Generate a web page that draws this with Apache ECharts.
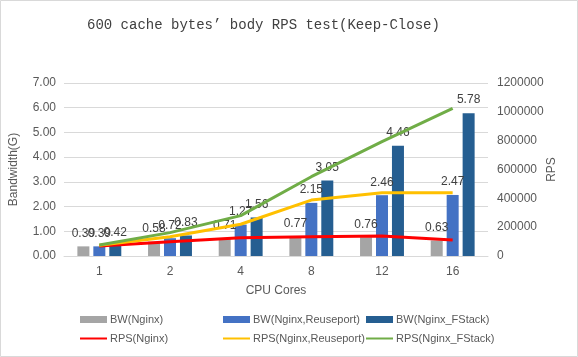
<!DOCTYPE html>
<html><head><meta charset="utf-8">
<script src="https://cdn.jsdelivr.net/npm/echarts@6/dist/echarts.min.js"></script>
<style>html,body{margin:0;padding:0;background:#fff}#c{width:578px;height:357px}</style>
</head><body><div id="c"></div>
<script>
const categories = ['1','2','4','8','12','16'];
const bwNginx = [0.39,0.58,0.71,0.77,0.76,0.63];
const bwReuse = [0.39,0.72,1.27,2.15,2.46,2.47];
const bwFstack = [0.42,0.83,1.56,3.05,4.46,5.78];
const rpsNginx = [70000,99000,127000,134000,139000,111000];
const rpsReuse = [75000,134000,220000,388000,439000,439000];
const rpsFstack = [76000,162000,280000,550000,793000,1024000];
const leftTicks = [0,1,2,3,4,5,6,7];
const rightTicks = [0,200000,400000,600000,800000,1000000,1200000];

const FONT = 'Liberation Sans';
const txt = '#595959';
const chart = echarts.init(document.getElementById('c'), null, {renderer:'canvas'});
const barLabel = {show:true, position:'top', distance:7, color:'#404040', fontSize:12, fontFamily:FONT, formatter:p=>p.value.toFixed(2)};
function legend(left, names){
  return {left:left, top:309, orient:'vertical', itemGap:8, itemWidth:27, itemHeight:7,
    textStyle:{color:txt, fontSize:11, fontFamily:FONT, padding:[0,0,0,-2]}, data:names};
}
const lineItem = n => ({name:n, itemStyle:{opacity:0}});
chart.setOption({
  animation:false,
  backgroundColor:'#fff',
  title:{text:'600 cache bytes\u2019 body RPS test(Keep-Close)', left:82, top:13,
    textStyle:{fontFamily:'Liberation Mono', fontWeight:'normal', fontSize:14, color:'#404040'}},
  graphic:[{type:'rect', shape:{x:0.5,y:0.5,width:577,height:356}, style:{fill:'none', stroke:'#d9d9d9', lineWidth:1}, silent:true}],
  grid:{left:64, right:90, top:83, bottom:101},
  legend:[
    legend(74, [{name:'BW(Nginx)', icon:'rect'}, lineItem('RPS(Nginx)')]),
    legend(217, [{name:'BW(Nginx,Reuseport)', icon:'rect'}, lineItem('RPS(Nginx,Reuseport)')]),
    legend(360, [{name:'BW(Nginx_FStack)', icon:'rect'}, lineItem('RPS(Nginx_FStack)')])
  ],
  xAxis:{type:'category', data:categories, name:'CPU Cores', nameLocation:'middle', nameGap:29,
    nameTextStyle:{color:txt, fontSize:12, fontFamily:FONT},
    axisLine:{lineStyle:{color:'#d9d9d9'}}, axisTick:{show:false},
    axisLabel:{color:txt, fontSize:12, fontFamily:FONT, margin:10}},
  yAxis:[
    {type:'value', min:leftTicks[0], max:leftTicks[leftTicks.length-1], interval:1,
      name:'Bandwidth(G)', nameLocation:'middle', nameGap:44,
      nameTextStyle:{color:txt, fontSize:12, fontFamily:FONT},
      axisLine:{show:false}, axisTick:{show:false},
      axisLabel:{color:txt, fontSize:12, fontFamily:FONT, margin:8, formatter:v=>v.toFixed(2)},
      splitLine:{lineStyle:{color:'#d9d9d9'}}},
    {type:'value', min:rightTicks[0], max:rightTicks[rightTicks.length-1], interval:200000,
      name:'RPS', nameLocation:'middle', nameGap:64, nameRotate:90, nameMoveOverlap:false,
      nameTextStyle:{color:txt, fontSize:12, fontFamily:FONT, verticalAlign:'middle'},
      axisLine:{show:false}, axisTick:{show:false},
      axisLabel:{color:txt, fontSize:12, fontFamily:FONT, margin:9, formatter:v=>String(v)},
      splitLine:{show:false}}
  ],
  series:[
    {name:'BW(Nginx)', type:'bar', data:bwNginx, barWidth:12, barGap:'33%', itemStyle:{color:'#A5A5A5'}, label:barLabel},
    {name:'BW(Nginx,Reuseport)', type:'bar', data:bwReuse, barWidth:12, barGap:'33%', itemStyle:{color:'#4472C4'}, label:barLabel},
    {name:'BW(Nginx_FStack)', type:'bar', data:bwFstack, barWidth:12, barGap:'33%', itemStyle:{color:'#255E91'}, label:barLabel},
    {name:'RPS(Nginx)', type:'line', yAxisIndex:1, data:rpsNginx, symbol:'none', z:5, lineStyle:{color:'#FF0000', width:3}, itemStyle:{color:'#FF0000'}},
    {name:'RPS(Nginx,Reuseport)', type:'line', yAxisIndex:1, data:rpsReuse, symbol:'none', z:5, lineStyle:{color:'#FFC000', width:3}, itemStyle:{color:'#FFC000'}},
    {name:'RPS(Nginx_FStack)', type:'line', yAxisIndex:1, data:rpsFstack, symbol:'none', z:5, lineStyle:{color:'#70AD47', width:3}, itemStyle:{color:'#70AD47'}}
  ]
});
</script></body></html>
